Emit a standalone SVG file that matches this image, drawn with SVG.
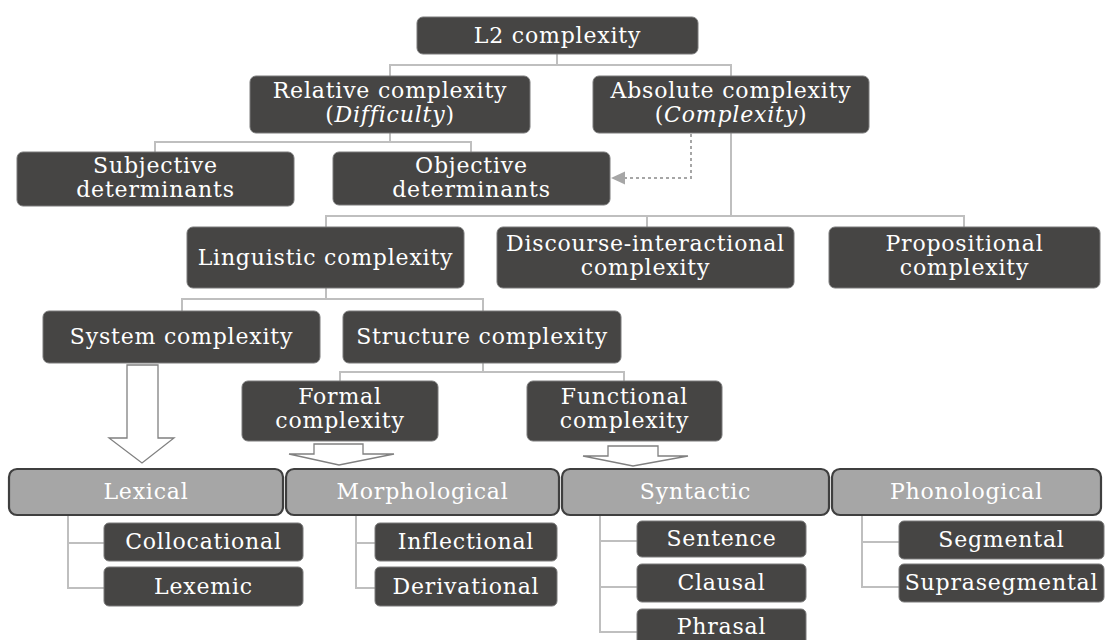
<svg xmlns="http://www.w3.org/2000/svg" width="1107" height="640" viewBox="0 0 1107 640">
<style>
.n rect{fill:#464544;stroke:#7a7a7a;stroke-width:1}
.g rect{fill:#a6a6a6;stroke:#3f3f3f;stroke-width:2.2}
text{font-family:"DejaVu Serif","Liberation Serif",serif;font-size:22px;fill:#ffffff;text-anchor:middle;letter-spacing:0.8px}
.c{fill:none;stroke:#bfbfbf;stroke-width:2}
.d{fill:none;stroke:#a6a6a6;stroke-width:2;stroke-dasharray:3 3}
.ba{fill:#ffffff;stroke:#808080;stroke-width:1.3}
</style>
<rect width="1107" height="640" fill="#ffffff"/>
<g id="connectors">
<path class="c" d="M557,54 V65 M390,76 V65 H731 V76"/>
<path class="c" d="M390,133 V142 M155,152 V142 H471 V152"/>
<path class="c" d="M731,133 V216 M326,227 V216 H964 V227 M647,216 V227"/>
<path class="c" d="M326,288 V299 M182,311 V299 H483 V311"/>
<path class="c" d="M483,363 V372 M340,381 V372 H624 V381"/>
<path class="c" d="M68,515 V588 H104 M68,543 H104"/>
<path class="c" d="M356,515 V588 H375 M356,543 H375"/>
<path class="c" d="M600,515 V632 H637 M600,541 H637 M600,587 H637"/>
<path class="c" d="M862,515 V587 H899 M862,542 H899"/>
<path class="d" d="M691,134 V178 H624"/>
<polygon points="611,178 625,171.5 625,184.5" fill="#a6a6a6"/>
<polygon class="ba" points="127,365 158,365 158,438 174,438 142,463 109,438 127,438"/>
<polygon class="ba" points="314,444 363,444 363,454 394,454 339,465 289,454 314,454"/>
<polygon class="ba" points="608,446 658,446 658,456 688,456 633,466 583,456 608,456"/>
</g>
<g id="l2" class="n"><rect x="417" y="17" width="281" height="37" rx="6"/><text x="557.5" y="43">L2 complexity</text></g>
<g id="relative" class="n"><rect x="250" y="76" width="280" height="57" rx="6"/><text x="390" y="98">Relative complexity</text><text x="390" y="122">(<tspan font-style="italic">Difficulty</tspan>)</text></g>
<g id="absolute" class="n"><rect x="593" y="76" width="276" height="57" rx="6"/><text x="731" y="98">Absolute complexity</text><text x="731" y="122">(<tspan font-style="italic">Complexity</tspan>)</text></g>
<g id="subjective" class="n"><rect x="17" y="152" width="277" height="54" rx="6"/><text x="155.5" y="173">Subjective</text><text x="155.5" y="197">determinants</text></g>
<g id="objective" class="n"><rect x="333" y="152" width="277" height="53" rx="6"/><text x="471.5" y="173">Objective</text><text x="471.5" y="197">determinants</text></g>
<g id="linguistic" class="n"><rect x="187" y="227" width="277" height="61" rx="6"/><text x="325.5" y="265">Linguistic complexity</text></g>
<g id="discourse" class="n"><rect x="497" y="227" width="297" height="61" rx="6"/><text x="645.5" y="251">Discourse-interactional</text><text x="645.5" y="275">complexity</text></g>
<g id="propositional" class="n"><rect x="829" y="227" width="271" height="61" rx="6"/><text x="964.5" y="251">Propositional</text><text x="964.5" y="275">complexity</text></g>
<g id="system" class="n"><rect x="43" y="311" width="277" height="52" rx="6"/><text x="181.5" y="344">System complexity</text></g>
<g id="structure" class="n"><rect x="343" y="311" width="278" height="52" rx="6"/><text x="482" y="344">Structure complexity</text></g>
<g id="formal" class="n"><rect x="242" y="381" width="196" height="60" rx="6"/><text x="340" y="404">Formal</text><text x="340" y="428">complexity</text></g>
<g id="functional" class="n"><rect x="527" y="381" width="195" height="60" rx="6"/><text x="624.5" y="404">Functional</text><text x="624.5" y="428">complexity</text></g>
<g id="lexical" class="g"><rect x="9" y="469" width="274" height="46" rx="8"/><text x="146" y="499">Lexical</text></g>
<g id="morphological" class="g"><rect x="286" y="469" width="273" height="46" rx="8"/><text x="422.5" y="499">Morphological</text></g>
<g id="syntactic" class="g"><rect x="562" y="469" width="267" height="46" rx="8"/><text x="695.5" y="499">Syntactic</text></g>
<g id="phonological" class="g"><rect x="832" y="469" width="269" height="46" rx="8"/><text x="966.5" y="499">Phonological</text></g>
<g id="collocational" class="n"><rect x="104" y="523" width="199" height="38" rx="5"/><text x="203.5" y="549">Collocational</text></g>
<g id="lexemic" class="n"><rect x="104" y="567" width="199" height="39" rx="5"/><text x="203.5" y="594">Lexemic</text></g>
<g id="inflectional" class="n"><rect x="375" y="523" width="182" height="38" rx="5"/><text x="466" y="549">Inflectional</text></g>
<g id="derivational" class="n"><rect x="375" y="567" width="182" height="39" rx="5"/><text x="466" y="594">Derivational</text></g>
<g id="sentence" class="n"><rect x="637" y="521" width="169" height="36" rx="5"/><text x="721.5" y="546">Sentence</text></g>
<g id="clausal" class="n"><rect x="637" y="564" width="169" height="38" rx="5"/><text x="721.5" y="590">Clausal</text></g>
<g id="phrasal" class="n"><rect x="637" y="609" width="169" height="40" rx="5"/><text x="721.5" y="634">Phrasal</text></g>
<g id="segmental" class="n"><rect x="899" y="521" width="205" height="38" rx="5"/><text x="1001.5" y="547">Segmental</text></g>
<g id="suprasegmental" class="n"><rect x="899" y="564" width="205" height="38" rx="5"/><text x="1001.5" y="590">Suprasegmental</text></g>
</svg>
